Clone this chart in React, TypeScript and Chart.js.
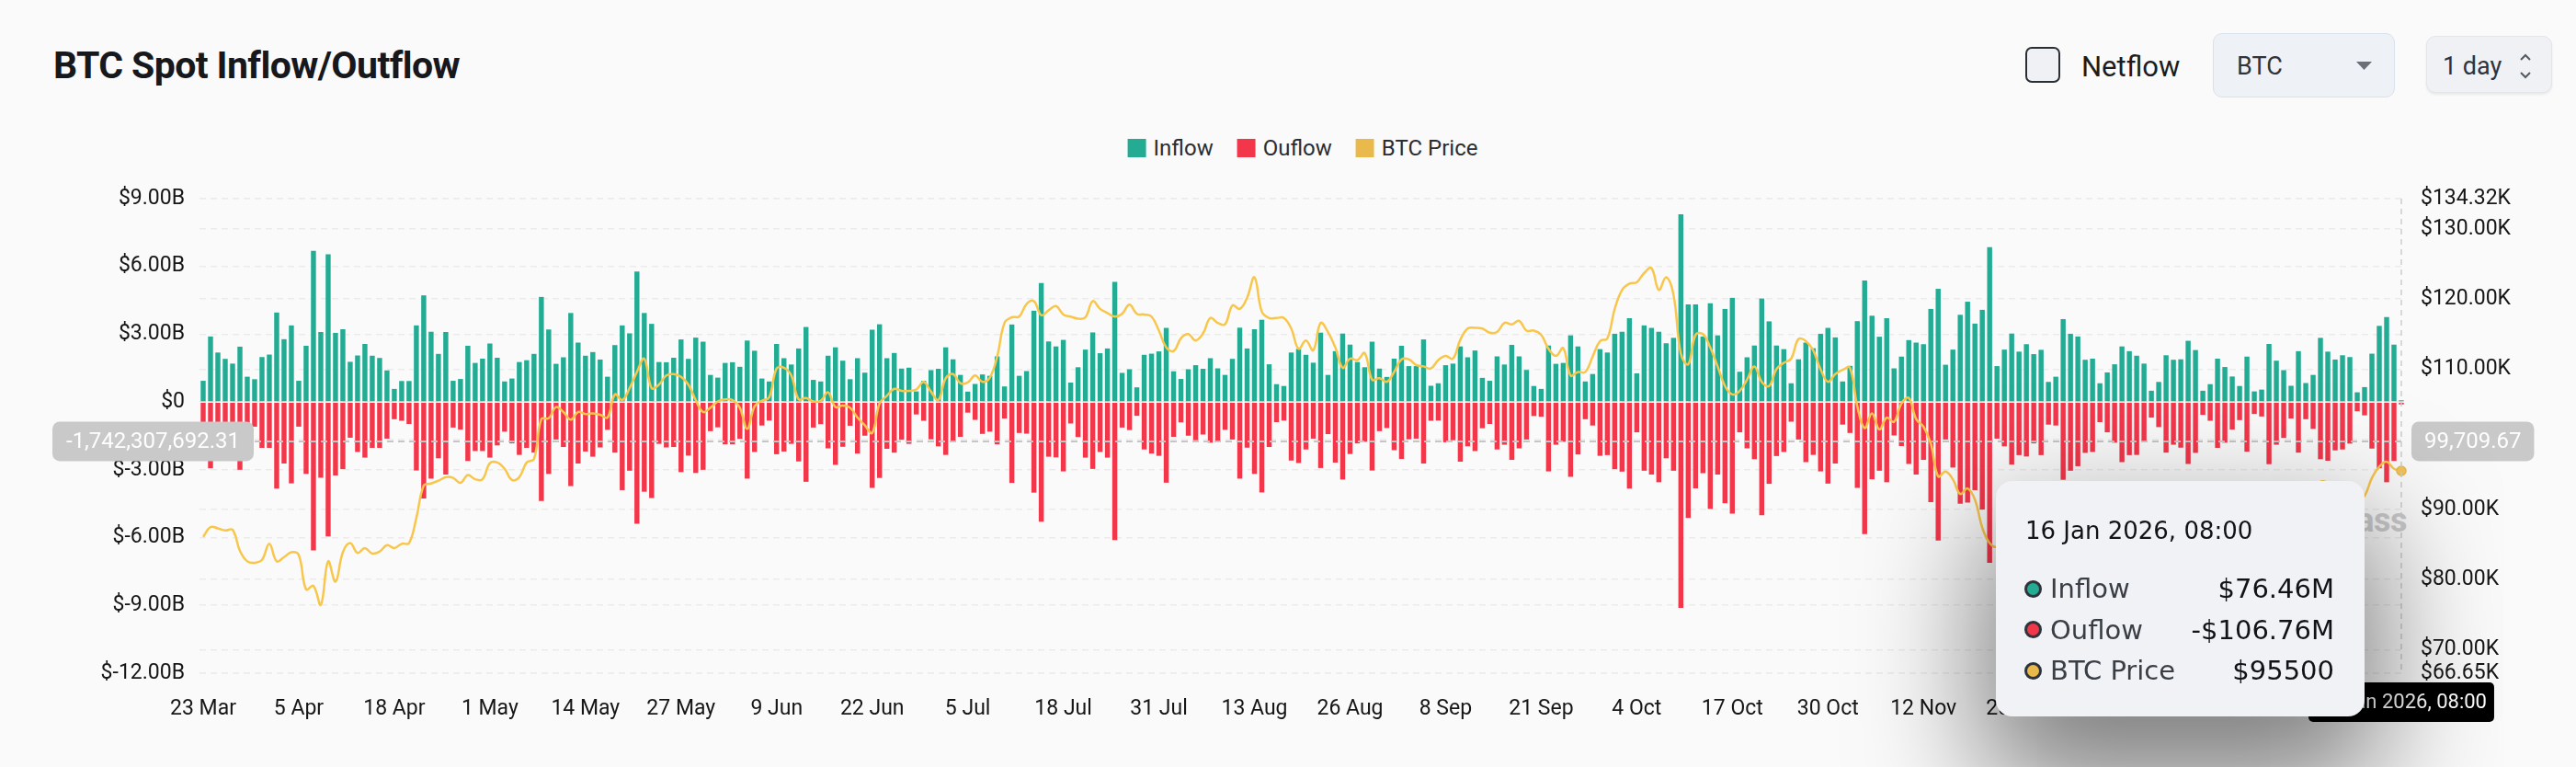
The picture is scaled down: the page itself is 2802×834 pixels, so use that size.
import React, { useEffect, useRef } from "react";
import { Chart, registerables } from "chart.js";

Chart.register(...registerables);

const FONT = 'Roboto, "Noto Sans", "DejaVu Sans", sans-serif';
const TIP_FONT = '"DejaVu Sans", Roboto, sans-serif';

// Inflow per day, in billions of USD (23 Mar 2025 .. 16 Jan 2026)
const inflowB = [
  0.94, 2.90, 2.19, 1.91, 1.70, 2.45, 1.12, 1.01, 1.99, 2.10,
  3.96, 2.78, 3.39, 0.94, 2.49, 6.69, 3.10, 6.54, 3.06, 3.22,
  1.78, 2.06, 2.57, 2.05, 1.95, 1.40, 0.58, 0.93, 0.93, 3.39,
  4.72, 3.11, 2.13, 3.10, 0.94, 1.02, 2.49, 1.73, 1.92, 2.59,
  1.96, 0.91, 1.04, 1.77, 1.85, 2.13, 4.65, 3.21, 1.69, 1.98,
  3.94, 2.63, 2.05, 2.21, 1.88, 1.12, 2.52, 3.39, 3.04, 5.77,
  3.94, 3.46, 1.77, 1.76, 1.96, 2.77, 1.91, 2.85, 2.67, 1.20,
  1.08, 1.73, 1.76, 1.56, 2.72, 2.27, 1.04, 0.91, 2.57, 1.94,
  1.66, 2.37, 3.32, 0.98, 0.91, 2.05, 2.42, 1.83, 1.01, 1.94,
  1.30, 3.20, 3.44, 1.94, 2.17, 1.48, 1.52, 0.47, 0.94, 1.41,
  1.47, 2.42, 1.89, 1.20, 0.46, 0.80, 1.22, 1.16, 2.02, 0.69,
  3.43, 1.16, 1.37, 4.04, 5.27, 2.68, 2.46, 2.75, 0.86, 1.54,
  2.32, 3.08, 2.16, 2.37, 5.32, 1.29, 1.45, 0.65, 2.09, 2.14,
  2.24, 3.28, 1.36, 1.02, 1.45, 1.63, 1.47, 1.94, 1.49, 1.20,
  1.91, 3.29, 2.37, 3.22, 3.64, 1.67, 0.79, 0.71, 2.19, 2.35,
  2.09, 1.74, 3.07, 1.20, 2.25, 3.03, 2.54, 1.77, 1.54, 2.67,
  1.48, 1.11, 1.92, 2.49, 1.59, 1.59, 2.77, 0.72, 0.83, 1.63,
  1.70, 2.46, 1.98, 2.28, 1.07, 0.94, 2.02, 1.66, 2.53, 2.02,
  1.42, 0.71, 0.58, 2.50, 1.69, 1.73, 2.95, 2.46, 0.91, 1.24,
  2.34, 2.19, 3.02, 3.11, 3.71, 1.27, 3.39, 3.28, 3.11, 2.60,
  2.84, 8.31, 4.32, 4.32, 2.90, 4.37, 2.95, 4.12, 4.61, 1.34,
  1.98, 2.50, 4.58, 3.57, 2.50, 2.34, 0.83, 1.89, 2.63, 2.38,
  3.02, 3.28, 2.86, 0.91, 1.60, 3.58, 5.38, 3.82, 2.89, 3.71,
  1.49, 2.01, 2.74, 2.63, 2.56, 4.12, 5.01, 1.65, 2.32, 3.86,
  4.44, 3.47, 4.08, 6.85, 1.59, 2.32, 3.03, 2.23, 2.56, 2.12,
  2.31, 0.89, 1.12, 3.67, 3.02, 2.90, 1.87, 1.92, 0.83, 1.31,
  1.67, 2.46, 2.25, 2.05, 1.70, 0.50, 0.89, 2.07, 1.87, 1.89,
  2.71, 2.30, 0.50, 0.79, 1.92, 1.55, 1.13, 0.71, 2.01, 0.47,
  0.55, 2.57, 1.83, 1.41, 0.72, 2.25, 0.84, 1.20, 2.84, 2.23,
  1.88, 2.07, 1.99, 0.43, 0.66, 2.14, 3.37, 3.76, 2.54, 0.07646,
];

// Outflow per day, in billions of USD (negative)
const outflowB = [
  -1.00, -2.93, -2.20, -1.90, -1.70, -3.00, -1.00, -1.09, -2.03, -2.03,
  -3.83, -2.72, -3.60, -1.09, -3.18, -6.57, -3.35, -5.95, -3.25, -2.97,
  -1.58, -2.21, -2.46, -2.03, -2.03, -1.62, -0.76, -0.83, -0.97, -3.03,
  -4.27, -3.39, -2.49, -3.21, -1.13, -1.22, -2.61, -2.17, -2.17, -2.46,
  -1.92, -1.31, -1.83, -2.34, -2.03, -2.24, -4.38, -3.18, -1.66, -1.99,
  -3.72, -2.72, -2.19, -2.42, -2.01, -1.23, -2.24, -3.90, -3.04, -5.39,
  -3.97, -4.25, -1.85, -2.01, -1.99, -3.10, -2.37, -3.14, -3.00, -1.29,
  -1.12, -1.87, -1.87, -1.63, -3.39, -2.21, -1.04, -0.82, -2.31, -2.19,
  -1.85, -2.63, -3.53, -1.13, -0.98, -2.05, -2.78, -1.98, -1.05, -2.28,
  -1.49, -3.80, -3.36, -2.07, -2.24, -1.67, -1.85, -0.55, -0.83, -1.65,
  -1.96, -2.34, -1.74, -1.54, -0.47, -0.79, -1.41, -1.31, -1.87, -0.73,
  -3.58, -1.37, -1.40, -4.01, -5.30, -2.42, -2.45, -3.07, -0.95, -1.55,
  -2.46, -2.96, -2.21, -2.46, -6.11, -1.13, -1.24, -0.61, -2.10, -2.28,
  -2.38, -3.57, -1.54, -0.90, -1.49, -1.69, -1.44, -1.80, -1.72, -1.23,
  -1.66, -3.39, -2.02, -3.18, -4.00, -1.99, -0.89, -0.82, -2.59, -2.70,
  -2.10, -1.62, -2.92, -1.42, -2.68, -3.43, -2.30, -1.83, -1.76, -3.03,
  -1.29, -1.15, -2.13, -2.52, -1.65, -1.62, -2.72, -0.83, -0.82, -1.78,
  -1.69, -2.64, -1.96, -2.17, -1.16, -0.97, -2.10, -1.89, -2.56, -2.05,
  -1.66, -0.62, -0.65, -3.07, -1.89, -1.76, -3.31, -2.32, -0.76, -1.04,
  -2.38, -2.35, -2.97, -3.08, -3.83, -1.34, -3.04, -3.21, -3.55, -2.49,
  -3.04, -9.11, -5.13, -3.82, -3.15, -4.73, -3.21, -4.48, -4.94, -1.34,
  -2.05, -2.53, -5.01, -3.62, -2.39, -2.21, -0.87, -1.66, -2.66, -2.34,
  -3.07, -3.61, -2.72, -1.00, -1.37, -3.80, -5.84, -3.42, -3.04, -3.55,
  -1.48, -1.95, -2.74, -3.21, -2.56, -4.43, -6.13, -1.66, -2.90, -4.50,
  -4.45, -3.90, -4.76, -7.12, -1.62, -1.96, -2.77, -2.35, -2.41, -1.83,
  -2.35, -1.00, -1.04, -3.44, -3.04, -2.84, -2.25, -2.21, -0.89, -1.34,
  -1.80, -2.66, -2.35, -2.34, -1.76, -0.69, -1.11, -2.24, -1.89, -2.02,
  -2.74, -2.25, -0.57, -0.83, -2.03, -1.80, -1.22, -0.80, -2.20, -0.53,
  -0.64, -2.75, -1.89, -1.59, -0.73, -2.24, -0.76, -1.19, -2.53, -2.60,
  -2.14, -2.10, -1.84, -0.41, -0.59, -2.06, -2.93, -3.55, -2.61, -0.10676,
];

// BTC price per day, in thousands of USD
const priceK = [
  86.1, 87.5, 87.3, 87.0, 87.1, 84.1, 82.6, 82.4, 82.8, 85.1,
  82.6, 83.2, 83.9, 83.5, 78.6, 79.1, 76.4, 82.6, 79.7, 83.9,
  85.2, 83.8, 84.5, 83.7, 84.0, 84.9, 84.5, 85.1, 85.2, 88.8,
  93.4, 93.7, 94.1, 94.6, 94.5, 93.8, 94.9, 94.3, 94.3, 96.6,
  96.7, 95.8, 94.2, 94.6, 96.7, 97.2, 102.9, 103.0, 104.6, 103.9,
  102.8, 103.9, 103.6, 103.7, 103.5, 103.1, 106.4, 105.6, 107.3, 109.6,
  111.5, 107.3, 107.8, 109.1, 109.3, 108.9, 107.8, 105.6, 103.9, 104.5,
  105.4, 105.7, 105.6, 104.5, 101.5, 104.7, 105.5, 106.0, 110.1, 110.2,
  109.1, 105.7, 105.9, 105.4, 105.5, 106.7, 104.6, 104.8, 104.5, 103.1,
  102.0, 100.9, 105.1, 106.2, 107.2, 106.9, 106.9, 107.1, 108.2, 106.8,
  105.6, 108.7, 109.3, 108.0, 108.1, 109.1, 108.2, 108.8, 111.8, 116.6,
  117.4, 117.5, 119.3, 119.7, 117.7, 118.4, 119.0, 117.8, 117.5, 117.2,
  117.4, 119.7, 118.6, 118.0, 117.5, 117.9, 119.2, 117.9, 117.8, 117.5,
  115.5, 113.1, 112.6, 114.4, 115.0, 114.1, 115.1, 117.3, 116.6, 116.4,
  119.1, 118.6, 120.2, 123.1, 118.2, 117.3, 117.3, 117.3, 115.8, 112.9,
  114.1, 112.7, 116.6, 115.3, 113.1, 110.2, 111.5, 111.3, 112.3, 108.5,
  108.7, 108.2, 109.6, 111.4, 111.4, 110.6, 110.4, 110.1, 111.3, 111.9,
  111.5, 114.2, 115.8, 115.9, 115.8, 115.2, 115.3, 116.6, 116.4, 116.9,
  115.5, 115.5, 114.9, 112.9, 111.9, 113.0, 109.1, 109.6, 109.6, 111.8,
  114.0, 114.4, 118.6, 121.3, 122.2, 122.4, 123.7, 124.4, 121.3, 123.1,
  120.6, 112.2, 110.7, 114.9, 115.0, 113.1, 110.4, 107.6, 106.4, 106.9,
  108.5, 110.4, 108.2, 107.6, 110.0, 110.9, 111.5, 114.3, 114.0, 112.7,
  110.0, 108.2, 109.3, 109.9, 110.2, 104.7, 101.6, 103.7, 101.4, 103.1,
  102.5, 105.1, 105.9, 102.9, 101.8, 99.4, 94.7, 95.4, 94.3, 92.2,
  93.0, 91.4, 87.4, 85.2, 84.7, 86.8, 88.3, 87.3, 90.5, 91.3,
  90.9, 90.8, 90.4, 86.3, 91.3, 93.5, 92.1, 89.4, 89.3, 90.4,
  90.6, 92.7, 92.0, 92.5, 90.3, 90.3, 88.2, 86.4, 87.8, 86.1,
  85.5, 88.1, 88.3, 88.6, 88.5, 87.6, 87.6, 87.3, 87.3, 87.8,
  87.8, 87.1, 88.4, 87.5, 88.7, 89.9, 90.6, 91.4, 93.9, 93.7,
  91.3, 91.0, 90.5, 91.0, 91.9, 94.5, 96.1, 96.8, 95.8, 95.5,
];

const MONTH_NAMES = ["Jan", "Feb", "Mar", "Apr", "May", "Jun", "Jul", "Aug", "Sep", "Oct", "Nov", "Dec"];
const FIRST_DAY_UTC = Date.UTC(2025, 2, 23);
const TICK_EVERY = 13;

const dayDates = inflowB.map((_, i) => new Date(FIRST_DAY_UTC + i * 86400000));
const categories = dayDates.map((d) => `${d.getUTCDate()} ${MONTH_NAMES[d.getUTCMonth()]}`);

const flowMinB = -12;
const flowMaxB = 9;
const flowStepB = 3;
const priceTicksK = [66.65, 70, 80, 90, 100, 110, 120, 130, 134.32];

const hoverIndex = inflowB.length - 1;
const crosshairFlow = -1742307692.31;
const crosshairPrice = 99709.67;

const hoverDate = dayDates[hoverIndex];
const hoverTitle = `${hoverDate.getUTCDate()} ${MONTH_NAMES[hoverDate.getUTCMonth()]} ${hoverDate.getUTCFullYear()}, 08:00`;

const GREEN = "#23AC93";
const RED = "#F3374B";
const YELLOW = "#F9C64C";
const YELLOW_KEY = "#E9BA4B";

const fmtNum2 = (v: number) =>
  v.toLocaleString("en-US", { minimumFractionDigits: 2, maximumFractionDigits: 2 });

const crosshairPlugin = {
  id: "crosshairOverlay",
  afterDatasetsDraw(chart: any) {
    const { ctx, chartArea, scales } = chart;
    const x = scales.x.getPixelForValue(hoverIndex);
    const y = scales.y.getPixelForValue(crosshairFlow);
    ctx.save();
    ctx.setLineDash([7, 5]);
    ctx.strokeStyle = "#c6c6c6";
    ctx.lineWidth = 2;
    ctx.beginPath();
    ctx.moveTo(chartArea.left, y);
    ctx.lineTo(chartArea.right, y);
    ctx.stroke();
    ctx.setLineDash([6, 5]);
    ctx.strokeStyle = "#cdcdcd";
    ctx.lineWidth = 1.5;
    ctx.beginPath();
    ctx.moveTo(x, chartArea.top);
    ctx.lineTo(x, chartArea.bottom);
    ctx.stroke();
    ctx.setLineDash([]);

    ctx.font = `24px ${FONT}`;
    ctx.textBaseline = "middle";
    const leftText = fmtNum2(crosshairFlow);
    const lw = ctx.measureText(leftText).width + 30;
    const lx = chartArea.left - 160;
    ctx.fillStyle = "#c9c9c9";
    ctx.beginPath();
    ctx.roundRect(lx, y - 21.5, lw, 43, 8);
    ctx.fill();
    ctx.fillStyle = "#ffffff";
    ctx.textAlign = "left";
    ctx.fillText(leftText, lx + 15, y + 1);
    const rightText = fmtNum2(crosshairPrice);
    const rw = ctx.measureText(rightText).width + 28;
    const rx = chartArea.right + 7;
    ctx.fillStyle = "#c9c9c9";
    ctx.beginPath();
    ctx.roundRect(rx, y - 21.5, rw, 43, 8);
    ctx.fill();
    ctx.fillStyle = "#ffffff";
    ctx.fillText(rightText, rx + 14, y + 1);
    ctx.font = `22px ${FONT}`;
    const bw = ctx.measureText(hoverTitle).width + 16;
    const by = chartArea.bottom + 10;
    ctx.fillStyle = "#000000";
    ctx.beginPath();
    ctx.roundRect(x - bw / 2, by, bw, 43, 5);
    ctx.fill();
    ctx.fillStyle = "#ffffff";
    ctx.textAlign = "center";
    ctx.fillText(hoverTitle, x, by + 22);
    ctx.restore();
  },
};

const legendItems = [
  { label: "Inflow", color: GREEN },
  { label: "Ouflow", color: RED },
  { label: "BTC Price", color: YELLOW_KEY },
];

export default function App() {
  const canvasRef = useRef<HTMLCanvasElement>(null);

  useEffect(() => {
    const canvas = canvasRef.current;
    if (!canvas) return;
    const chart = new Chart(canvas, {
      type: "bar",
      data: {
        labels: categories,
        datasets: [
          {
            type: "line",
            label: "BTC Price",
            data: priceK.map((v) => v * 1000),
            yAxisID: "y1",
            borderColor: YELLOW,
            borderWidth: 2.5,
            tension: 0.4,
            pointRadius: (c: any) => (c.dataIndex === hoverIndex ? 5 : 0),
            pointBackgroundColor: "#F2C45A",
            pointBorderColor: "#E8B84A",
            pointBorderWidth: 1.5,
            order: 0,
          } as any,
          {
            type: "bar",
            label: "Inflow",
            data: inflowB.map((v) => v * 1e9),
            yAxisID: "y",
            backgroundColor: GREEN,
            barPercentage: 0.68,
            categoryPercentage: 1,
            order: 1,
          },
          {
            type: "bar",
            label: "Ouflow",
            data: outflowB.map((v) => v * 1e9),
            yAxisID: "y",
            backgroundColor: RED,
            barPercentage: 0.68,
            categoryPercentage: 1,
            order: 2,
          },
        ],
      },
      options: {
        responsive: false,
        maintainAspectRatio: false,
        devicePixelRatio: 1,
        animation: false,
        events: [],
        layout: { padding: { top: 216, left: 0, right: 0, bottom: 0 } },
        plugins: {
          legend: { display: false },
          tooltip: { enabled: false },
        },
        scales: {
          x: {
            stacked: true,
            offset: true,
            grid: { display: false },
            border: { display: false },
            ticks: {
              autoSkip: false,
              maxRotation: 0,
              minRotation: 0,
              padding: 17,
              color: "#161616",
              font: { family: FONT, size: 23 },
              callback: (_v: any, i: number) => (i % TICK_EVERY === 0 ? categories[i] : null),
            },
            afterFit: (s: any) => {
              s.height = 102;
            },
          },
          y: {
            position: "left",
            stacked: true,
            min: flowMinB * 1e9,
            max: flowMaxB * 1e9,
            grid: { color: "#ebebeb", lineWidth: 1.6, drawTicks: false },
            border: { display: false, dash: [7, 5] },
            ticks: {
              stepSize: flowStepB * 1e9,
              padding: 16,
              color: "#161616",
              font: { family: FONT, size: 23 },
              callback: (v: any) => (v === 0 ? "$0" : `$${(v / 1e9).toFixed(2)}B`),
            },
            afterFit: (s: any) => {
              s.width = 217;
            },
          },
          y1: {
            position: "right",
            min: priceTicksK[0] * 1000,
            max: priceTicksK[priceTicksK.length - 1] * 1000,
            grid: { color: "#ebebeb", lineWidth: 1.6, drawTicks: false },
            border: { display: false, dash: [7, 5] },
            afterBuildTicks: (s: any) => {
              s.ticks = priceTicksK.map((v) => ({ value: v * 1000 }));
            },
            ticks: {
              autoSkip: false,
              padding: 17,
              color: "#161616",
              font: { family: FONT, size: 23 },
              callback: (v: any) => `$${(v / 1000).toFixed(2)}K`,
            },
            afterFit: (s: any) => {
              s.width = 186;
            },
          },
        },
      },
      plugins: [crosshairPlugin],
    } as any);
    return () => chart.destroy();
  }, []);

  const hoverRows = [
    { label: "Inflow", color: GREEN, value: `$${(inflowB[hoverIndex] * 1000).toFixed(2)}M` },
    { label: "Ouflow", color: RED, value: `-$${(Math.abs(outflowB[hoverIndex]) * 1000).toFixed(2)}M` },
    { label: "BTC Price", color: YELLOW_KEY, value: `$${Math.round(priceK[hoverIndex] * 1000)}` },
  ];

  return (
    <div
      style={{
        position: "fixed",
        left: 0,
        top: 0,
        width: 2802,
        height: 834,
        background: "#fafafa",
        overflow: "hidden",
        fontFamily: FONT,
      }}
    >
      <div
        style={{
          position: "absolute",
          left: 58,
          top: 51,
          fontSize: 41,
          lineHeight: "41px",
          fontWeight: 700,
          letterSpacing: -0.6,
          color: "#16181c",
          whiteSpace: "nowrap",
        }}
      >
        BTC Spot Inflow/Outflow
      </div>

      <div
        style={{
          position: "absolute",
          left: 2203,
          top: 51,
          width: 38,
          height: 39,
          boxSizing: "border-box",
          border: "2.5px solid #2a2e35",
          borderRadius: 7,
          background: "#eff1f5",
        }}
      />
      <div
        style={{
          position: "absolute",
          left: 2264,
          top: 57,
          fontSize: 31,
          lineHeight: "31px",
          color: "#1a1c20",
        }}
      >
        Netflow
      </div>

      <div
        style={{
          position: "absolute",
          left: 2407,
          top: 36,
          width: 198,
          height: 70,
          boxSizing: "border-box",
          border: "1.5px solid #d7e2ee",
          borderRadius: 10,
          background: "#eef1f5",
        }}
      >
        <div
          style={{
            position: "absolute",
            left: 25,
            top: 22,
            fontSize: 27,
            lineHeight: "27px",
            color: "#30343a",
          }}
        >
          BTC
        </div>
        <svg width="18" height="10" style={{ position: "absolute", left: 155, top: 30 }}>
          <polygon points="0,0 17,0 8.5,9" fill="#6b6f76" />
        </svg>
      </div>

      <div
        style={{
          position: "absolute",
          left: 2639,
          top: 39,
          width: 137,
          height: 62,
          boxSizing: "border-box",
          border: "1.5px solid #e3e5e9",
          borderRadius: 10,
          background: "#eff1f4",
          boxShadow: "0 2px 3px rgba(0,0,0,0.07)",
        }}
      >
        <div
          style={{
            position: "absolute",
            left: 17,
            top: 19,
            fontSize: 27,
            lineHeight: "27px",
            color: "#30343a",
          }}
        >
          1 day
        </div>
        <svg width="14" height="30" style={{ position: "absolute", left: 100, top: 17 }}>
          <polyline points="2,8 7,3 12,8" fill="none" stroke="#555a61" strokeWidth="2" />
          <polyline points="2,22 7,27 12,22" fill="none" stroke="#555a61" strokeWidth="2" />
        </svg>
      </div>

      <div
        style={{
          position: "absolute",
          left: 1417,
          top: 149,
          transform: "translateX(-50%)",
          display: "flex",
          alignItems: "center",
          whiteSpace: "nowrap",
        }}
      >
        {legendItems.map((it, k) => (
          <div
            key={it.label}
            style={{ display: "flex", alignItems: "center", marginLeft: k === 0 ? 0 : 26 }}
          >
            <div style={{ width: 20, height: 20, background: it.color }} />
            <div
              style={{
                marginLeft: 8,
                fontSize: 24,
                lineHeight: "24px",
                color: "#2a2d33",
              }}
            >
              {it.label}
            </div>
          </div>
        ))}
      </div>

      <div
        style={{
          position: "absolute",
          right: 2802 - 2618,
          top: 548,
          fontSize: 36,
          lineHeight: "36px",
          fontWeight: 700,
          color: "#cbcbcb",
          letterSpacing: -0.5,
        }}
      >
        coinglass
      </div>

      <canvas
        ref={canvasRef}
        width={2802}
        height={834}
        style={{ position: "absolute", left: 0, top: 0, width: 2802, height: 834 }}
      />

      <div
        style={{
          position: "absolute",
          left: 2171,
          top: 523,
          width: 401,
          height: 256,
          borderRadius: 18,
          background: "#f1f2f6",
          boxShadow: "0 60px 130px 15px rgba(0,0,0,0.5)",
          fontFamily: TIP_FONT,
        }}
      >
        <div
          style={{
            position: "absolute",
            left: 32,
            top: 41,
            fontSize: 26,
            lineHeight: "26px",
            color: "#121316",
            whiteSpace: "nowrap",
          }}
        >
          {hoverTitle}
        </div>
        {hoverRows.map((r, k) => {
          const cy = 117 + k * 44.5;
          return (
            <React.Fragment key={r.label}>
              <div
                style={{
                  position: "absolute",
                  left: 30.5,
                  top: cy - 9.5,
                  width: 19,
                  height: 19,
                  boxSizing: "border-box",
                  borderRadius: "50%",
                  border: "3px solid #2f343b",
                  background: r.color,
                }}
              />
              <div
                style={{
                  position: "absolute",
                  left: 59,
                  top: cy - 14,
                  fontSize: 29,
                  lineHeight: "29px",
                  color: "#3a3f46",
                  whiteSpace: "nowrap",
                }}
              >
                {r.label}
              </div>
              <div
                style={{
                  position: "absolute",
                  right: 33,
                  top: cy - 14,
                  fontSize: 29,
                  lineHeight: "29px",
                  color: "#121316",
                  textAlign: "right",
                  whiteSpace: "nowrap",
                }}
              >
                {r.value}
              </div>
            </React.Fragment>
          );
        })}
      </div>
    </div>
  );
}
